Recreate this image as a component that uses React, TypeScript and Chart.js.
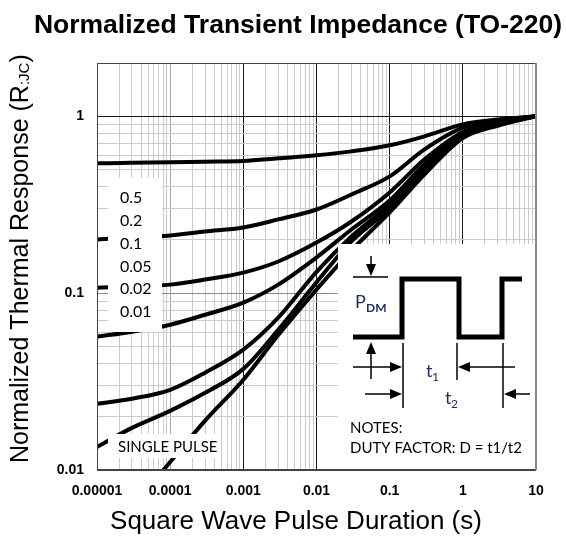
import React, { useEffect, useRef } from 'react';
import { Chart, registerables } from 'chart.js';

Chart.register(...registerables);

// ---------------- data ----------------
const pulseDurations = [1e-5, 3e-5, 1e-4, 3e-4, 1e-3, 3e-3, 1e-2, 3e-2, 0.1, 0.3, 1, 3, 10];
const duty05 = [0.542, 0.545, 0.549, 0.553, 0.558, 0.578, 0.601, 0.633, 0.685, 0.77, 0.9, 0.958, 1.0];
const duty02 = [0.201, 0.206, 0.212, 0.223, 0.235, 0.261, 0.297, 0.361, 0.457, 0.65, 0.862, 0.943, 1.0];
const duty01 = [0.1074, 0.1088, 0.1117, 0.1193, 0.1306, 0.1509, 0.193, 0.254, 0.371, 0.571, 0.815, 0.92, 1.0];
const duty005 = [0.0567, 0.0605, 0.0663, 0.0755, 0.0884, 0.1117, 0.159, 0.229, 0.334, 0.535, 0.795, 0.908, 1.0];
const duty002 = [0.0237, 0.0253, 0.0284, 0.0355, 0.0479, 0.0726, 0.132, 0.209, 0.317, 0.514, 0.785, 0.903, 1.0];
const duty001 = [0.0135, 0.0173, 0.0216, 0.0273, 0.0373, 0.0621, 0.115, 0.196, 0.301, 0.501, 0.772, 0.896, 1.0];
const singlePulseDurations = [7e-5, 1e-4, 3e-4, 1e-3, 3e-3, 1e-2, 3e-2, 0.1, 0.3, 1, 3, 10];
const singlePulse = [0.0093, 0.0111, 0.019, 0.0324, 0.058, 0.1047, 0.174, 0.286, 0.469, 0.752, 0.884, 1.0];

const dutyLabels = ['0.5', '0.2', '0.1', '0.05', '0.02', '0.01'];
const xDecades = [1e-5, 1e-4, 1e-3, 1e-2, 1e-1, 1, 10];
const xTickLabels = ['0.00001', '0.0001', '0.001', '0.01', '0.1', '1', '10'];
const yDecades = [0.01, 0.1, 1];
const yTickLabels = ['0.01', '0.1', '1'];

const minorSteps = [1, 2, 3, 4, 5, 6, 7, 8, 9];
const xGrid = xDecades.slice(0, -1).flatMap((d) => minorSteps.map((m) => d * m)).concat([10]);
const yGrid = yDecades.slice(0, -1).flatMap((d) => minorSteps.map((m) => d * m)).concat([1]);

const decadeIndex = (v: number, decades: number[]) =>
  decades.findIndex((d) => Math.abs(Math.log10(v / d)) < 1e-6);

const SANS = '"Liberation Sans", Arial, sans-serif';
const NOTE = 'Lato, "Open Sans", sans-serif';
const NAVY = '#1f2f63';

function arrowHead(ctx: CanvasRenderingContext2D, x: number, y: number, dir: 'up' | 'down' | 'left' | 'right') {
  const L = 12, W = 5;
  ctx.beginPath();
  if (dir === 'right') { ctx.moveTo(x, y); ctx.lineTo(x - L, y - W); ctx.lineTo(x - L, y + W); }
  if (dir === 'left') { ctx.moveTo(x, y); ctx.lineTo(x + L, y - W); ctx.lineTo(x + L, y + W); }
  if (dir === 'down') { ctx.moveTo(x, y); ctx.lineTo(x - W, y - L); ctx.lineTo(x + W, y - L); }
  if (dir === 'up') { ctx.moveTo(x, y); ctx.lineTo(x - W, y + L); ctx.lineTo(x + W, y + L); }
  ctx.closePath();
  ctx.fill();
}

function line(ctx: CanvasRenderingContext2D, x1: number, y1: number, x2: number, y2: number) {
  ctx.beginPath();
  ctx.moveTo(x1, y1);
  ctx.lineTo(x2, y2);
  ctx.stroke();
}

const overlayPlugin = {
  id: 'overlay',
  afterDatasetsDraw(chart: any) {
    const { ctx, chartArea: a } = chart;
    ctx.save();

    // duty-cycle label box
    ctx.fillStyle = '#fff';
    ctx.fillRect(108, 178, 54, 154);
    ctx.fillStyle = '#000';
    ctx.font = `16px ${NOTE}`;
    ctx.textAlign = 'left';
    ctx.textBaseline = 'middle';
    dutyLabels.forEach((t, i) => ctx.fillText(t, 120, 198 + i * 22.8));

    // single pulse label
    ctx.fillStyle = '#fff';
    ctx.fillRect(108, 434, 110, 24);
    ctx.fillStyle = '#000';
    ctx.font = `15px ${NOTE}`;
    ctx.fillText('SINGLE PULSE', 118, 447);

    // inset diagram
    ctx.fillStyle = '#fff';
    ctx.fillRect(338, 244, a.right - 338, a.bottom - 244);

    ctx.strokeStyle = '#000';
    ctx.fillStyle = '#000';
    ctx.lineWidth = 5;
    ctx.lineJoin = 'miter';
    ctx.beginPath();
    ctx.moveTo(353, 337);
    ctx.lineTo(402, 337);
    ctx.lineTo(402, 279);
    ctx.lineTo(459, 279);
    ctx.lineTo(459, 337);
    ctx.lineTo(502, 337);
    ctx.lineTo(502, 279);
    ctx.lineTo(522, 279);
    ctx.stroke();

    ctx.lineWidth = 1.5;
    line(ctx, 353, 277, 388, 277);
    line(ctx, 371, 256, 371, 266);
    arrowHead(ctx, 371, 276, 'down');
    line(ctx, 371, 352, 371, 379);
    arrowHead(ctx, 371, 342, 'up');
    line(ctx, 403, 343, 403, 408);
    line(ctx, 457, 343, 457, 380);
    line(ctx, 503, 343, 503, 408);
    line(ctx, 353, 367, 392, 367);
    arrowHead(ctx, 402, 367, 'right');
    line(ctx, 468, 367, 515, 367);
    arrowHead(ctx, 458, 367, 'left');
    line(ctx, 365, 394, 392, 394);
    arrowHead(ctx, 402, 394, 'right');
    line(ctx, 514, 394, 530, 394);
    arrowHead(ctx, 504, 394, 'left');

    ctx.fillStyle = NAVY;
    ctx.textBaseline = 'alphabetic';
    ctx.font = `18px ${NOTE}`;
    ctx.fillText('P', 355, 308);
    ctx.font = `bold 12px ${NOTE}`;
    ctx.fillText('DM', 366, 312);
    ctx.font = `18px ${NOTE}`;
    ctx.fillText('t', 426, 377);
    ctx.font = `12px ${NOTE}`;
    ctx.fillText('1', 432, 381);
    ctx.font = `18px ${NOTE}`;
    ctx.fillText('t', 445, 404);
    ctx.font = `12px ${NOTE}`;
    ctx.fillText('2', 451, 408);

    ctx.fillStyle = '#000';
    ctx.font = `15px ${NOTE}`;
    ctx.textBaseline = 'middle';
    ctx.fillText('NOTES:', 350, 428);
    ctx.fillText('DUTY FACTOR: D = t1/t2', 350, 448);

    // plot frame
    ctx.lineWidth = 1;
    ctx.strokeStyle = '#444';
    ctx.beginPath();
    ctx.moveTo(a.right - 0.5, a.top + 0.5);
    ctx.lineTo(a.left + 0.5, a.top + 0.5);
    ctx.lineTo(a.left + 0.5, a.bottom - 0.5);
    ctx.lineTo(a.right - 0.5, a.bottom - 0.5);
    ctx.stroke();
    ctx.strokeStyle = '#888';
    line(ctx, a.right - 0.5, a.top, a.right - 0.5, a.bottom);

    ctx.restore();
  },
  afterDraw(chart: any) {
    const { ctx } = chart;
    ctx.save();
    ctx.fillStyle = '#000';
    ctx.textBaseline = 'alphabetic';

    ctx.font = `bold 26.5px ${SANS}`;
    ctx.textAlign = 'center';
    ctx.fillText('Normalized Transient Impedance (TO-220)', 298, 33);

    ctx.font = `26px ${SANS}`;
    ctx.fillText('Square Wave Pulse Duration (s)', 296, 529);

    // rotated y title with subscript
    ctx.translate(28, 463);
    ctx.rotate(-Math.PI / 2);
    ctx.textAlign = 'left';
    ctx.font = `25px ${SANS}`;
    const main = 'Normalized Thermal Response (R';
    ctx.fillText(main, 0, 0);
    let x = ctx.measureText(main).width;
    ctx.font = `15px ${SANS}`;
    ctx.fillText(':JC', x, 1);
    x += ctx.measureText(':JC').width;
    ctx.font = `25px ${SANS}`;
    ctx.fillText(')', x, 0);
    ctx.restore();
  },
};

const makeSeries = (xs: number[], ys: number[]) => xs.map((x, i) => ({ x, y: ys[i] }));

export default function App() {
  const ref = useRef<HTMLCanvasElement>(null);

  useEffect(() => {
    document.body.style.margin = '0';
    const curves = [duty05, duty02, duty01, duty005, duty002, duty001];
    const datasets: any[] = curves.map((vals, i) => ({
      label: dutyLabels[i],
      data: makeSeries(pulseDurations, vals),
      borderColor: '#000',
      borderWidth: 4,
      pointRadius: 0,
      fill: false,
      cubicInterpolationMode: 'monotone',
    }));
    datasets.push({
      label: 'SINGLE PULSE',
      data: makeSeries(singlePulseDurations, singlePulse),
      borderColor: '#000',
      borderWidth: 4,
      pointRadius: 0,
      fill: false,
      cubicInterpolationMode: 'monotone',
    });

    const chart = new Chart(ref.current as HTMLCanvasElement, {
      type: 'line',
      data: { datasets },
      plugins: [overlayPlugin],
      options: {
        animation: false,
        responsive: false,
        devicePixelRatio: 1,
        layout: { padding: { left: 0, top: 63, right: 30, bottom: 0 } },
        plugins: { legend: { display: false }, tooltip: { enabled: false }, title: { display: false } },
        scales: {
          x: {
            type: 'logarithmic',
            min: 1e-5,
            max: 10,
            afterBuildTicks: (s: any) => { s.ticks = xGrid.map((v) => ({ value: v })); },
            afterFit: (s: any) => { s.height = 67; },
            border: { display: false },
            grid: {
              drawTicks: false,
              lineWidth: 1,
              color: (c: any) => {
                const i = decadeIndex(c.tick?.value ?? 1, xDecades);
                if (i === -1) return '#cbcbcb';
                if (i === 0) return '#444';
                if (i === 1) return '#a8a8a8';
                if (i === 6) return '#888';
                return '#1a1a1a';
              },
            },
            ticks: {
              autoSkip: false,
              maxRotation: 0,
              minRotation: 0,
              padding: 13,
              color: '#000',
              font: { family: SANS, size: 14, weight: 'bold' },
              callback: (v: any) => {
                const i = decadeIndex(Number(v), xDecades);
                return i === -1 ? '' : xTickLabels[i];
              },
            },
          },
          y: {
            type: 'logarithmic',
            min: 0.01,
            max: 2,
            afterBuildTicks: (s: any) => { s.ticks = yGrid.map((v) => ({ value: v })); },
            afterFit: (s: any) => { s.width = 97; },
            border: { display: false },
            grid: {
              drawTicks: false,
              lineWidth: 1,
              color: (c: any) => {
                const i = decadeIndex(c.tick?.value ?? 1, yDecades);
                if (i === -1) return '#cbcbcb';
                if (i === 0) return '#444';
                if (i === 1) return '#8a8a8a';
                return '#1a1a1a';
              },
            },
            ticks: {
              autoSkip: false,
              padding: 13,
              color: '#000',
              font: { family: SANS, size: 14, weight: 'bold' },
              callback: (v: any) => {
                const i = decadeIndex(Number(v), yDecades);
                return i === -1 ? '' : yTickLabels[i];
              },
            },
          },
        },
      } as any,
    });
    return () => chart.destroy();
  }, []);

  return (
    <canvas
      ref={ref}
      width={566}
      height={537}
      style={{ display: 'block', width: '566px', height: '537px' }}
    />
  );
}
